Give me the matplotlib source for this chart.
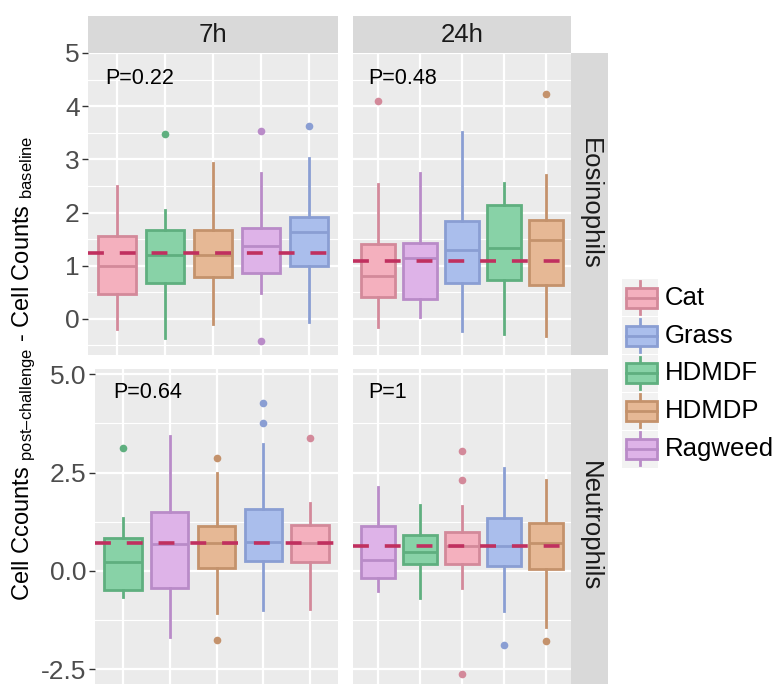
import numpy as np
import matplotlib
matplotlib.use("Agg")
import matplotlib.pyplot as plt
from matplotlib.patches import Rectangle
from matplotlib.ticker import FixedLocator, FixedFormatter

plt.rcParams.update({
    "font.family": ["Liberation Sans", "DejaVu Sans"],
    "mathtext.fontset": "custom",
    "mathtext.rm": "Liberation Sans",
    "mathtext.it": "Liberation Sans:italic",
    "axes.unicode_minus": False,
})

# ---------------------------------------------------------------------------
# data
# ---------------------------------------------------------------------------
eos7_groups = ["Cat", "HDMDF", "HDMDP", "Ragweed", "Grass"]
eos7_q1 = [0.47, 0.68, 0.78, 0.86, 1.00]
eos7_med = [1.00, 1.20, 1.21, 1.37, 1.63]
eos7_q3 = [1.56, 1.67, 1.67, 1.70, 1.92]
eos7_lo = [-0.19, -0.36, -0.10, 0.48, -0.05]
eos7_hi = [2.50, 2.04, 2.94, 2.74, 3.02]
eos7_out = [[], [3.47], [], [3.53, -0.41], [3.63]]
eos7_ref = 1.24
eos7_p = "P=0.22"

eos24_groups = ["Cat", "Ragweed", "Grass", "HDMDF", "HDMDP"]
eos24_q1 = [0.41, 0.37, 0.67, 0.73, 0.63]
eos24_med = [0.81, 1.15, 1.30, 1.33, 1.48]
eos24_q3 = [1.40, 1.43, 1.84, 2.14, 1.85]
eos24_lo = [-0.16, 0.04, -0.22, -0.28, -0.33]
eos24_hi = [2.53, 2.74, 3.52, 2.56, 2.71]
eos24_out = [[4.10], [], [], [], [4.22]]
eos24_ref = 1.09
eos24_p = "P=0.48"

neu7_groups = ["HDMDF", "Ragweed", "HDMDP", "Grass", "Cat"]
neu7_q1 = [-0.47, -0.42, 0.07, 0.26, 0.22]
neu7_med = [0.24, 0.69, 0.70, 0.73, 0.70]
neu7_q3 = [0.85, 1.49, 1.15, 1.57, 1.17]
neu7_lo = [-0.65, -1.68, -1.07, -0.99, -0.96]
neu7_hi = [1.34, 3.43, 2.48, 3.22, 1.72]
neu7_out = [[3.13], [], [2.88, -1.75], [4.26, 3.75], [3.38]]
neu7_ref = 0.70
neu7_p = "P=0.64"

neu24_groups = ["Ragweed", "HDMDF", "Cat", "Grass", "HDMDP"]
neu24_q1 = [-0.19, 0.19, 0.18, 0.13, 0.05]
neu24_med = [0.28, 0.47, 0.63, 0.63, 0.72]
neu24_q3 = [1.14, 0.91, 1.00, 1.35, 1.21]
neu24_lo = [-0.52, -0.68, -0.44, -1.01, -1.41]
neu24_hi = [2.14, 1.68, 1.66, 2.61, 2.31]
neu24_out = [[], [], [3.05, 2.31, -2.61], [-1.88], [-1.77]]
neu24_ref = 0.64
neu24_p = "P=1"

legend_labels = ["Cat", "Grass", "HDMDF", "HDMDP", "Ragweed"]
fill_col = {"Cat": "#F4B0BE", "Grass": "#AABEEC", "HDMDF": "#88D2A7",
            "HDMDP": "#E6B895", "Ragweed": "#DEB3E8"}
edge_col = {"Cat": "#D3899A", "Grass": "#8A9ED3", "HDMDF": "#5FAF7F",
            "HDMDP": "#C4926C", "Ragweed": "#B98BC8"}
ref_col = "#C0305F"

W, H = 777, 684
LW = 2.0
fig = plt.figure(figsize=(W / 100, H / 100), dpi=100)


def px_axes(x0, y0, x1, y1):
    """axes from pixel box (top-left origin)"""
    return fig.add_axes([x0 / W, 1 - y1 / H, (x1 - x0) / W, (y1 - y0) / H])


def panel(box, groups, q1, med, q3, lo, hi, out, ref, ptxt, ptxt_x, ptxt_y,
          ylim, major, minor, ticklabels, show_y):
    ax = px_axes(*box)
    ax.set_facecolor("#EBEBEB")
    for s in ax.spines.values():
        s.set_visible(False)
    for i, g in enumerate(groups):
        st = [{"med": med[i], "q1": q1[i], "q3": q3[i], "whislo": lo[i],
               "whishi": hi[i], "fliers": out[i]}]
        ec = edge_col[g]
        ax.bxp(st, positions=[i], widths=0.8, patch_artist=True,
               showcaps=False, manage_ticks=False, zorder=2,
               boxprops=dict(facecolor=fill_col[g], edgecolor=ec, lw=LW),
               whiskerprops=dict(color=ec, lw=LW),
               medianprops=dict(color=ec, lw=LW),
               flierprops=dict(marker="o", markerfacecolor=ec,
                               markeredgecolor="none", markersize=5.5))
    ax.axhline(ref, color=ref_col, lw=2.6, dashes=(4.4, 4.4), zorder=3)
    ax.set_xlim(-0.6, len(groups) - 0.4)
    ax.set_ylim(*ylim)
    ax.xaxis.set_major_locator(FixedLocator(range(len(groups))))
    ax.yaxis.set_major_locator(FixedLocator(major))
    ax.yaxis.set_minor_locator(FixedLocator(minor))
    ax.grid(True, which="major", color="white", lw=1.6)
    ax.grid(True, which="minor", axis="y", color="white", lw=0.8)
    ax.set_axisbelow(True)
    ax.tick_params(axis="x", length=0, labelbottom=False)
    ax.tick_params(axis="y", which="minor", length=0)
    if show_y:
        ax.yaxis.set_major_formatter(FixedFormatter(ticklabels))
        ax.tick_params(axis="y", which="major", length=4, width=1,
                       color="#333333", labelcolor="#4D4D4D",
                       labelsize=19, pad=2)
    else:
        ax.tick_params(axis="y", which="major", length=0, labelleft=False)
    ax.text(ptxt_x, ptxt_y, ptxt, transform=ax.transAxes, ha="center",
            va="center", fontsize=15.5, color="black")
    return ax


def strip(box, label, rot):
    ax = px_axes(*box)
    ax.set_facecolor("#D9D9D9")
    ax.set_xticks([]); ax.set_yticks([])
    for s in ax.spines.values():
        s.set_visible(False)
    ax.text(0.5, 0.5, label, transform=ax.transAxes, ha="center",
            va="center", rotation=rot, fontsize=18.5, color="#1A1A1A")


top_major = [0, 1, 2, 3, 4, 5]
top_minor = [-0.5, 0.5, 1.5, 2.5, 3.5, 4.5]
top_labels = ["0", "1", "2", "3", "4", "5"]
bot_major = [-2.5, 0.0, 2.5, 5.0]
bot_minor = [-1.25, 1.25, 3.75]
bot_labels = ["-2.5", "0.0", "2.5", "5.0"]

panel((88, 53, 338, 355), eos7_groups, eos7_q1, eos7_med, eos7_q3, eos7_lo,
      eos7_hi, eos7_out, eos7_ref, eos7_p, 0.208, 0.914, (-0.68, 5.0),
      top_major, top_minor, top_labels, True)
panel((353, 53, 571, 355), eos24_groups, eos24_q1, eos24_med, eos24_q3,
      eos24_lo, eos24_hi, eos24_out, eos24_ref, eos24_p, 0.229, 0.914,
      (-0.68, 5.0), top_major, top_minor, top_labels, False)
panel((95, 369, 338, 684), neu7_groups, neu7_q1, neu7_med, neu7_q3, neu7_lo,
      neu7_hi, neu7_out, neu7_ref, neu7_p, 0.216, 0.925, (-2.87, 5.13),
      bot_major, bot_minor, bot_labels, True)
panel((353, 369, 571, 684), neu24_groups, neu24_q1, neu24_med, neu24_q3,
      neu24_lo, neu24_hi, neu24_out, neu24_ref, neu24_p, 0.158, 0.925,
      (-2.87, 5.13), bot_major, bot_minor, bot_labels, False)

strip((88, 16, 338, 53), "7h", 0)
strip((353, 16, 571, 53), "24h", 0)
strip((571, 53, 608, 355), "Eosinophils", -90)
strip((571, 369, 608, 684), "Neutrophils", -90)

# legend drawn by hand in pixel units
lg = px_axes(613, 270, 777, 475)
lg.set_xlim(613, 777)
lg.set_ylim(475, 270)
lg.axis("off")
key_h = 37.8
for i, name in enumerate(legend_labels):
    y0 = 279 + i * key_h
    yc = y0 + key_h / 2
    lg.add_patch(Rectangle((622, y0 + 0.5), 36, key_h - 1, facecolor="#F2F2F2",
                           edgecolor="none"))
    lg.plot([640, 640], [y0 + 2, y0 + key_h - 3], color=edge_col[name],
            lw=LW)
    lg.add_patch(Rectangle((626, yc - 10), 31, 20, facecolor=fill_col[name],
                           edgecolor=edge_col[name], lw=LW, zorder=3))
    lg.plot([626, 657], [yc, yc], color=edge_col[name], lw=LW, zorder=4)
    lg.text(665, yc, name, ha="left", va="center", fontsize=18.5,
            color="black")

fig.text(24 / W, 1 - 368 / H,
         "Cell Ccounts $_{\\mathrm{post\u2013challenge}}$ - Cell Counts "
         "$_{\\mathrm{baseline}}$",
         rotation=90, ha="center", va="center", fontsize=17,
         color="black")

fig.savefig("out.png", dpi=100, facecolor="white")
